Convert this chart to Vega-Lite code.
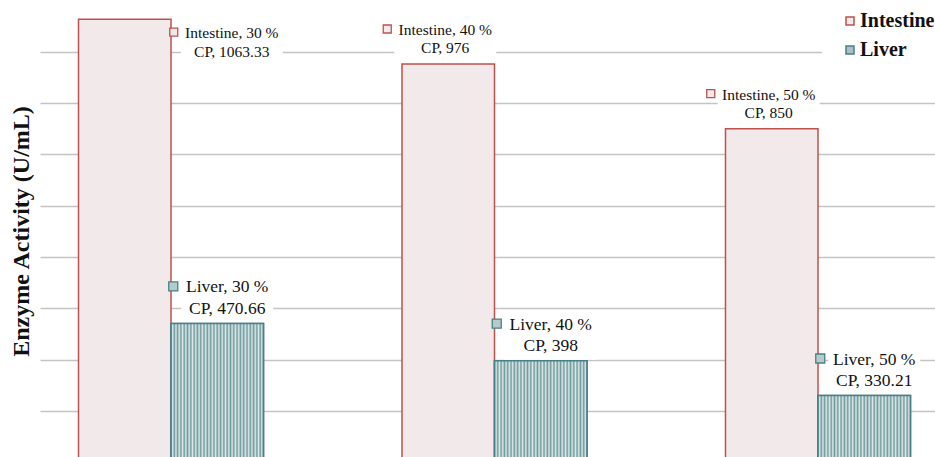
{
  "$schema": "https://vega.github.io/schema/vega-lite/v6.json",
  "autosize": {"type": "none"},
  "padding": {"left": 40, "top": 0, "right": 0, "bottom": 0},
  "width": 909,
  "height": 457,
  "background": "white",
  "config": {
    "view": {"stroke": null},
    "font": "Liberation Serif"
  },
  "data": {
    "values": [
      {"cp": "30", "series": "Intestine", "value": 1063.33},
      {"cp": "30", "series": "Liver", "value": 470.66},
      {"cp": "40", "series": "Intestine", "value": 976},
      {"cp": "40", "series": "Liver", "value": 398},
      {"cp": "50", "series": "Intestine", "value": 850},
      {"cp": "50", "series": "Liver", "value": 330.21}
    ]
  },
  "transform": [
    {"calculate": "datum.series + ', ' + datum.cp + ' %'", "as": "line1"},
    {"calculate": "'CP, ' + datum.value", "as": "line2"}
  ],
  "encoding": {
    "x": {
      "field": "cp",
      "type": "nominal",
      "sort": ["30", "40", "50"],
      "scale": {"paddingInner": 0.4281, "paddingOuter": 0.119},
      "axis": null
    },
    "xOffset": {
      "field": "series",
      "type": "nominal",
      "sort": ["Intestine", "Liver"],
      "scale": {"paddingInner": 0, "paddingOuter": 0}
    },
    "y": {
      "field": "value",
      "type": "quantitative",
      "scale": {"domain": [210.4, 1100.7], "nice": false, "zero": false},
      "axis": {
        "title": "Enzyme Activity (U/mL)",
        "labels": false,
        "ticks": false,
        "domain": false,
        "values": [300, 400, 500, 600, 700, 800, 900, 1000],
        "grid": true,
        "gridColor": "#c4c4c4",
        "gridWidth": 1.5,
        "titleFont": "Liberation Serif",
        "titleFontSize": 24,
        "titleFontWeight": "bold",
        "titleColor": "#111111",
        "titleAngle": 270,
        "titleAlign": "center",
        "titleBaseline": "middle",
        "titleX": -19,
        "titleY": 231
      }
    }
  },
  "layer": [
    {
      "transform": [{"filter": "datum.series == 'Intestine' && datum.cp != '30'"}],
      "mark": {"type": "point", "shape": "M-54,-21H48V21H-54Z", "size": 4, "filled": true, "fill": "white", "strokeWidth": 0, "opacity": 1, "yOffset": -25}
    },
    {
      "transform": [{"filter": "datum.series == 'Intestine' && datum.cp == '30'"}],
      "mark": {"type": "point", "shape": "M56,-21H158V21H56Z", "size": 4, "filled": true, "fill": "white", "strokeWidth": 0, "opacity": 1, "yOffset": 23.5}
    },
    {
      "transform": [{"filter": "datum.series == 'Liver'"}],
      "mark": {"type": "point", "shape": "M-36,-24H56V24H-36Z", "size": 4, "filled": true, "fill": "white", "strokeWidth": 0, "opacity": 1, "yOffset": -25}
    },
    {
      "mark": {"type": "bar", "clip": true, "strokeWidth": 1.5},
      "encoding": {
        "fill": {
          "field": "series",
          "type": "nominal",
          "scale": {"domain": ["Intestine", "Liver"], "range": ["#f2eaea", "#a8c3c5"]},
          "legend": {
            "title": null,
            "orient": "none",
            "legendX": 782,
            "legendY": -7,
            "padding": 18,
            "fillColor": "white",
            "symbolType": "square",
            "symbolSize": 64,
            "symbolStrokeWidth": 1.5,
            "labelFont": "Liberation Serif",
            "labelFontSize": 20,
            "labelFontWeight": "bold",
            "labelColor": "#111111",
            "labelOffset": 0,
            "rowPadding": 9
          }
        },
        "stroke": {
          "field": "series",
          "type": "nominal",
          "scale": {"domain": ["Intestine", "Liver"], "range": ["#c0504d", "#4b7f86"]},
          "legend": {
            "title": null,
            "orient": "none",
            "legendX": 782,
            "legendY": -7,
            "padding": 18,
            "fillColor": "white",
            "symbolType": "square",
            "symbolSize": 64,
            "symbolStrokeWidth": 1.5,
            "labelFont": "Liberation Serif",
            "labelFontSize": 20,
            "labelFontWeight": "bold",
            "labelColor": "#111111",
            "labelOffset": 0,
            "rowPadding": 9
          }
        }
      }
    },
    {
      "transform": [{"filter": "datum.series == 'Liver'"}],
      "mark": {
        "type": "bar",
        "clip": true,
        "strokeWidth": 1.5,
        "stroke": "#4b7f86",
        "fill": {
          "gradient": "linear",
          "x1": 0, "y1": 0, "x2": 1, "y2": 0,
          "stops": [
            {"offset": 0, "color": "#6e9a9e"}, {"offset": 0.0179, "color": "#dfe9e9"},
            {"offset": 0.0357, "color": "#6e9a9e"}, {"offset": 0.0536, "color": "#dfe9e9"},
            {"offset": 0.0714, "color": "#6e9a9e"}, {"offset": 0.0893, "color": "#dfe9e9"},
            {"offset": 0.1071, "color": "#6e9a9e"}, {"offset": 0.125, "color": "#dfe9e9"},
            {"offset": 0.1429, "color": "#6e9a9e"}, {"offset": 0.1607, "color": "#dfe9e9"},
            {"offset": 0.1786, "color": "#6e9a9e"}, {"offset": 0.1964, "color": "#dfe9e9"},
            {"offset": 0.2143, "color": "#6e9a9e"}, {"offset": 0.2321, "color": "#dfe9e9"},
            {"offset": 0.25, "color": "#6e9a9e"}, {"offset": 0.2679, "color": "#dfe9e9"},
            {"offset": 0.2857, "color": "#6e9a9e"}, {"offset": 0.3036, "color": "#dfe9e9"},
            {"offset": 0.3214, "color": "#6e9a9e"}, {"offset": 0.3393, "color": "#dfe9e9"},
            {"offset": 0.3571, "color": "#6e9a9e"}, {"offset": 0.375, "color": "#dfe9e9"},
            {"offset": 0.3929, "color": "#6e9a9e"}, {"offset": 0.4107, "color": "#dfe9e9"},
            {"offset": 0.4286, "color": "#6e9a9e"}, {"offset": 0.4464, "color": "#dfe9e9"},
            {"offset": 0.4643, "color": "#6e9a9e"}, {"offset": 0.4821, "color": "#dfe9e9"},
            {"offset": 0.5, "color": "#6e9a9e"}, {"offset": 0.5179, "color": "#dfe9e9"},
            {"offset": 0.5357, "color": "#6e9a9e"}, {"offset": 0.5536, "color": "#dfe9e9"},
            {"offset": 0.5714, "color": "#6e9a9e"}, {"offset": 0.5893, "color": "#dfe9e9"},
            {"offset": 0.6071, "color": "#6e9a9e"}, {"offset": 0.625, "color": "#dfe9e9"},
            {"offset": 0.6429, "color": "#6e9a9e"}, {"offset": 0.6607, "color": "#dfe9e9"},
            {"offset": 0.6786, "color": "#6e9a9e"}, {"offset": 0.6964, "color": "#dfe9e9"},
            {"offset": 0.7143, "color": "#6e9a9e"}, {"offset": 0.7321, "color": "#dfe9e9"},
            {"offset": 0.75, "color": "#6e9a9e"}, {"offset": 0.7679, "color": "#dfe9e9"},
            {"offset": 0.7857, "color": "#6e9a9e"}, {"offset": 0.8036, "color": "#dfe9e9"},
            {"offset": 0.8214, "color": "#6e9a9e"}, {"offset": 0.8393, "color": "#dfe9e9"},
            {"offset": 0.8571, "color": "#6e9a9e"}, {"offset": 0.875, "color": "#dfe9e9"},
            {"offset": 0.8929, "color": "#6e9a9e"}, {"offset": 0.9107, "color": "#dfe9e9"},
            {"offset": 0.9286, "color": "#6e9a9e"}, {"offset": 0.9464, "color": "#dfe9e9"},
            {"offset": 0.9643, "color": "#6e9a9e"}, {"offset": 0.9821, "color": "#dfe9e9"},
            {"offset": 1, "color": "#6e9a9e"}
          ]
        }
      }
    },
    {
      "transform": [{"filter": "datum.series == 'Intestine' && datum.cp != '30'"}],
      "mark": {"type": "point", "shape": "M-65,-4H-57V4H-65Z", "size": 4, "filled": true, "fill": "#f2eaea", "stroke": "#c0504d", "strokeWidth": 1.3, "opacity": 1, "yOffset": -35}
    },
    {
      "transform": [{"filter": "datum.series == 'Intestine' && datum.cp == '30'"}],
      "mark": {"type": "point", "shape": "M45,-4H53V4H45Z", "size": 4, "filled": true, "fill": "#f2eaea", "stroke": "#c0504d", "strokeWidth": 1.3, "opacity": 1, "yOffset": 13}
    },
    {
      "transform": [{"filter": "datum.series == 'Liver'"}],
      "mark": {"type": "point", "shape": "M-48.5,-4.5H-39.5V4.5H-48.5Z", "size": 4, "filled": true, "fill": "#b5cccd", "stroke": "#4b7f86", "strokeWidth": 1.3, "opacity": 1, "yOffset": -37}
    },
    {
      "transform": [{"filter": "datum.series == 'Intestine' && datum.cp != '30'"}],
      "mark": {"type": "text", "font": "Liberation Serif", "fontSize": 15.5, "color": "#111111", "align": "center", "baseline": "middle", "dx": -3, "dy": -34},
      "encoding": {"text": {"field": "line1"}}
    },
    {
      "transform": [{"filter": "datum.series == 'Intestine' && datum.cp != '30'"}],
      "mark": {"type": "text", "font": "Liberation Serif", "fontSize": 15.5, "color": "#111111", "align": "center", "baseline": "middle", "dx": -3, "dy": -16},
      "encoding": {"text": {"field": "line2"}}
    },
    {
      "transform": [{"filter": "datum.series == 'Intestine' && datum.cp == '30'"}],
      "mark": {"type": "text", "font": "Liberation Serif", "fontSize": 15.5, "color": "#111111", "align": "center", "baseline": "middle", "dx": 107, "dy": 14},
      "encoding": {"text": {"field": "line1"}}
    },
    {
      "transform": [{"filter": "datum.series == 'Intestine' && datum.cp == '30'"}],
      "mark": {"type": "text", "font": "Liberation Serif", "fontSize": 15.5, "color": "#111111", "align": "center", "baseline": "middle", "dx": 107, "dy": 33},
      "encoding": {"text": {"field": "line2"}}
    },
    {
      "transform": [{"filter": "datum.series == 'Liver'"}],
      "mark": {"type": "text", "font": "Liberation Serif", "fontSize": 17.5, "color": "#111111", "align": "center", "baseline": "middle", "dx": 10, "dy": -36},
      "encoding": {"text": {"field": "line1"}}
    },
    {
      "transform": [{"filter": "datum.series == 'Liver'"}],
      "mark": {"type": "text", "font": "Liberation Serif", "fontSize": 17.5, "color": "#111111", "align": "center", "baseline": "middle", "dx": 10, "dy": -14.5},
      "encoding": {"text": {"field": "line2"}}
    }
  ]
}
